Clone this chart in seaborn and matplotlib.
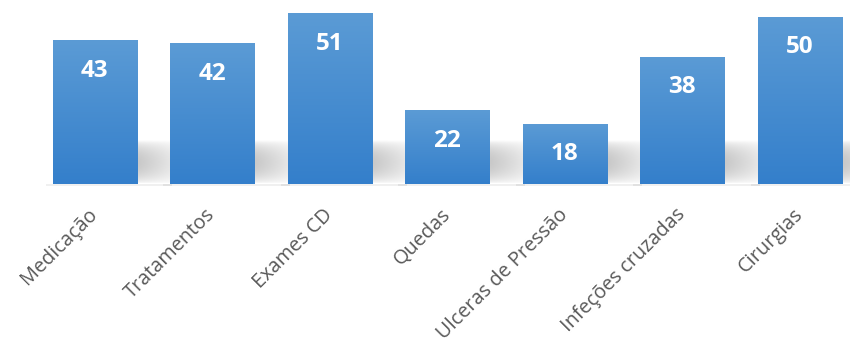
import numpy as np
import pandas as pd
import seaborn as sns
import matplotlib.pyplot as plt

# dados
categorias = ["Medicação", "Tratamentos", "Exames CD", "Quedas",
              "Ulceras de Pressão", "Infeções cruzadas", "Cirurgias"]
valores = [43, 42, 51, 22, 18, 38, 50]

df = pd.DataFrame({"categoria": categorias, "valor": valores})

sns.set_style("white")
plt.rcParams["font.family"] = ["Open Sans", "DejaVu Sans"]

fig = plt.figure(figsize=(8.5, 3.42), dpi=100)
ax = fig.add_axes([36 / 850, 158 / 342, 822.5 / 850, 184 / 342])

sns.barplot(data=df, x="categoria", y="valor", color="#4a8fd3",
            width=0.715, ax=ax, zorder=3)

# gradiente azul nas barras
grad = np.linspace(0, 1, 256)
top = np.array([91, 155, 213]) / 255
bot = np.array([52, 127, 203]) / 255
img = np.zeros((256, 1, 3))
for c in range(3):
    img[:, 0, c] = bot[c] + (top[c] - bot[c]) * grad

for p in ax.patches:
    x0, y0 = p.get_x(), p.get_y()
    w, h = p.get_width(), p.get_height()
    p.set_facecolor("none")
    p.set_edgecolor("none")
    im = ax.imshow(img, extent=[x0, x0 + w, y0, y0 + h], origin="lower",
                   aspect="auto", zorder=4, interpolation="bilinear")
    im.set_clip_path(p)

    # sombra difusa atrás da barra
    hs = min(13.5, h * 0.8)
    nx, ny = 40, 40
    xs = np.linspace(0, 1, nx)
    ys = np.linspace(0, 1, ny)
    fx = np.clip(1.15 - xs, 0, 1) ** 0.8
    fy = np.sin(np.pi * np.clip(ys * 1.05, 0, 1)) ** 0.6
    alpha = 0.42 * np.outer(fy, fx)
    sh = np.zeros((ny, nx, 4))
    sh[..., :3] = 0.5
    sh[..., 3] = alpha
    ax.imshow(sh, extent=[x0 + w - 0.05, x0 + w + 0.4, 0, hs], origin="lower",
              aspect="auto", zorder=2, interpolation="bilinear")

    # linha de sombra na base
    ax.fill_between([x0 - 0.06, x0 + w + 0.3], -0.6, 0, color="#000000",
                    alpha=0.06, lw=0, zorder=1, clip_on=False)

ax.set_xlim(-0.5, 6.5)
ax.set_ylim(0, 55)

for i, v in enumerate(valores):
    ax.annotate(str(v), (i, v), xytext=(0, -22), textcoords="offset points",
                ha="center", va="center", color="white", fontsize=17.5,
                fontweight="bold", zorder=6)

ax.set_xlabel("")
ax.set_ylabel("")
ax.set_yticks([])
ax.tick_params(axis="x", length=0, pad=20)
plt.setp(ax.get_xticklabels(), rotation=45, ha="right", va="center",
         rotation_mode="anchor", fontsize=14.3, color="#595959")
sns.despine(ax=ax, left=True, bottom=True)

fig.savefig("out.png", dpi=100)
